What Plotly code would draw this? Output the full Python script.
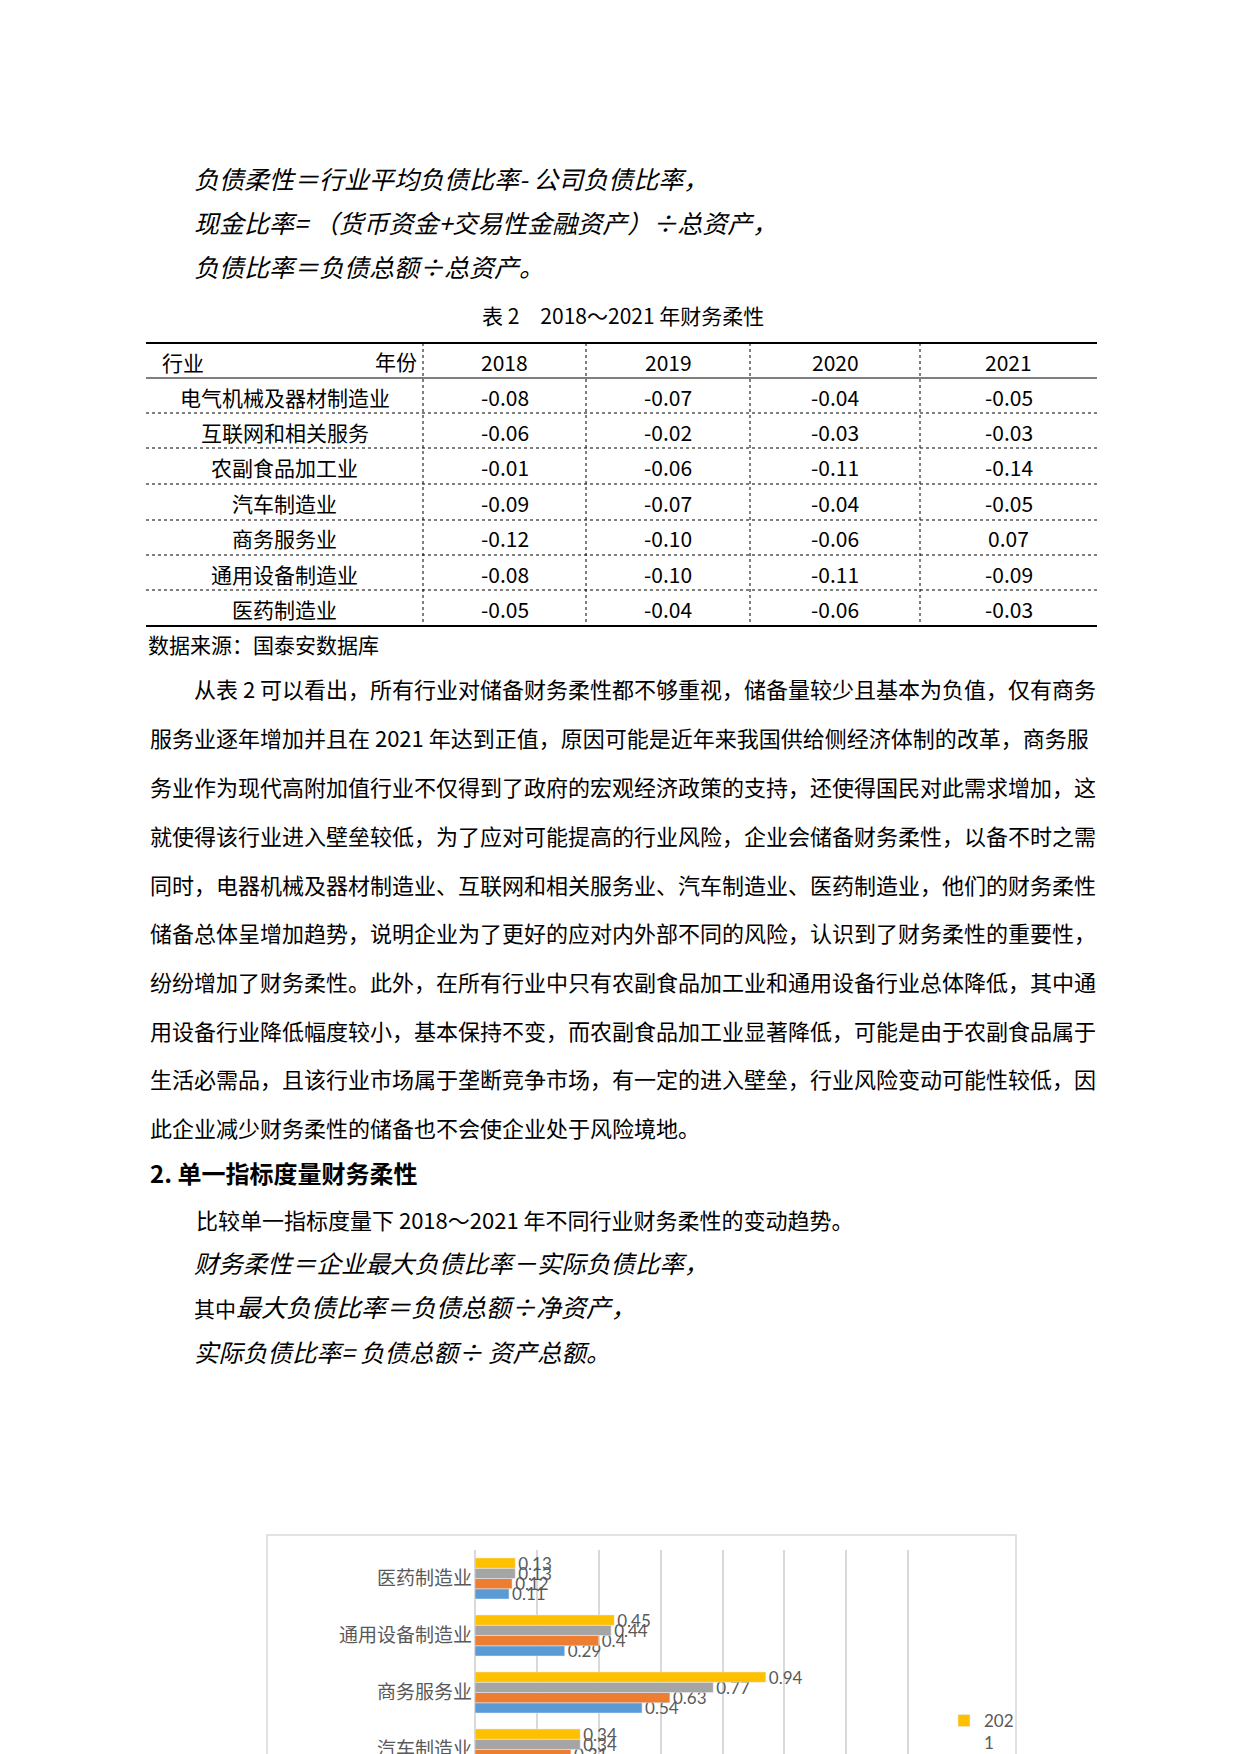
import plotly.graph_objects as go

W, H = 1240, 1754
OFF = 8  # the html body has a default 8px margin, positions below are page pixels
CJK = "Noto Sans CJK SC"
CHART_FONT = "Lato, Noto Sans CJK SC"
GREY_TEXT = "#595959"

# table 2: 2018~2021 financial flexibility
table_years = ["2018", "2019", "2020", "2021"]
table_industries = ["电气机械及器材制造业", "互联网和相关服务", "农副食品加工业",
                    "汽车制造业", "商务服务业", "通用设备制造业", "医药制造业"]
table_2018 = [-0.08, -0.06, -0.01, -0.09, -0.12, -0.08, -0.05]
table_2019 = [-0.07, -0.02, -0.06, -0.07, -0.10, -0.10, -0.04]
table_2020 = [-0.04, -0.03, -0.11, -0.04, -0.06, -0.11, -0.06]
table_2021 = [-0.05, -0.03, -0.14, -0.05, 0.07, -0.09, -0.03]

# bar chart (single indicator), bottom to top as drawn
chart_industries = ["汽车制造业", "商务服务业", "通用设备制造业", "医药制造业"]
flex_2018 = [0.28, 0.54, 0.29, 0.11]
flex_2019 = [0.31, 0.63, 0.40, 0.12]
flex_2020 = [0.34, 0.77, 0.44, 0.13]
flex_2021 = [0.34, 0.94, 0.45, 0.13]
series_years = ["2018", "2019", "2020", "2021"]
series_colors = ["#5B9BD5", "#ED7D31", "#A5A5A5", "#FFC000"]

body_lines = [
    "从表 2 可以看出，所有行业对储备财务柔性都不够重视，储备量较少且基本为负值，仅有商务",
    "服务业逐年增加并且在 2021 年达到正值，原因可能是近年来我国供给侧经济体制的改革，商务服",
    "务业作为现代高附加值行业不仅得到了政府的宏观经济政策的支持，还使得国民对此需求增加，这",
    "就使得该行业进入壁垒较低，为了应对可能提高的行业风险，企业会储备财务柔性，以备不时之需",
    "同时，电器机械及器材制造业、互联网和相关服务业、汽车制造业、医药制造业，他们的财务柔性",
    "储备总体呈增加趋势，说明企业为了更好的应对内外部不同的风险，认识到了财务柔性的重要性，",
    "纷纷增加了财务柔性。此外，在所有行业中只有农副食品加工业和通用设备行业总体降低，其中通",
    "用设备行业降低幅度较小，基本保持不变，而农副食品加工业显著降低，可能是由于农副食品属于",
    "生活必需品，且该行业市场属于垄断竞争市场，有一定的进入壁垒，行业风险变动可能性较低，因",
    "此企业减少财务柔性的储备也不会使企业处于风险境地。",
]
body_y = [688, 737, 786, 835, 884, 932, 981, 1030, 1078, 1127]


def px(x, y):
    return (x - OFF) / W, 1 - (y - OFF) / H


def note(text, x, y, size=22, anchor="left", color="black"):
    xp, yp = px(x, y)
    return dict(text=text, x=xp, y=yp, xref="paper", yref="paper",
                xanchor=anchor, yanchor="middle", showarrow=False,
                font=dict(family=CJK, size=size, color=color))


def hline(y, x0, x1, width=1, dash="solid"):
    a, yp = px(x0, y)
    b, _ = px(x1, y)
    return dict(type="line", xref="paper", yref="paper", x0=a, x1=b, y0=yp, y1=yp,
                line=dict(color="black", width=width, dash=dash))


def vline(x, y0, y1, width=1, dash="dot"):
    xp, a = px(x, y0)
    _, b = px(x, y1)
    return dict(type="line", xref="paper", yref="paper", x0=xp, x1=xp, y0=a, y1=b,
                line=dict(color="black", width=width, dash=dash))


fig = go.Figure()
for yr, vals, col in zip(series_years, [flex_2018, flex_2019, flex_2020, flex_2021], series_colors):
    fig.add_trace(go.Bar(
        y=chart_industries, x=vals, orientation="h", name=yr[:3] + "<br>" + yr[3:],
        marker_color=col, text=vals, texttemplate="%{x}", textposition="outside",
        constraintext="none", cliponaxis=True,
        textfont=dict(family=CHART_FONT, size=17, color=GREY_TEXT),
    ))

annotations = []
# formulas above the table
annotations.append(note("<i>负债柔性＝行业平均负债比率- 公司负债比率，</i>", 192, 178, 25))
annotations.append(note("<i>现金比率= （货币资金+交易性金融资产）÷总资产，</i>", 192, 222, 25))
annotations.append(note("<i>负债比率＝负债总额÷总资产。</i>", 192, 266, 25))
annotations.append(note("表 2　2018～2021 年财务柔性", 623, 315, 21, "center"))

# table
row_edges = [378, 413, 448, 484, 520, 555, 590, 626]
col_edges = [146, 423, 586, 750, 920, 1097]
annotations.append(note("行业", 160, 362, 21))
annotations.append(note("年份", 419, 361, 21, "right"))
for j, yr in enumerate(table_years):
    cx = (col_edges[j + 1] + col_edges[j + 2]) / 2
    annotations.append(note(yr, cx, 362, 21, "center"))
columns = [table_2018, table_2019, table_2020, table_2021]
for i, ind in enumerate(table_industries):
    cy = (row_edges[i] + row_edges[i + 1]) / 2 + 1
    annotations.append(note(ind, (col_edges[0] + col_edges[1]) / 2, cy, 21, "center"))
    for j, col in enumerate(columns):
        cx = (col_edges[j + 1] + col_edges[j + 2]) / 2
        annotations.append(note(f"{col[i]:.2f}", cx, cy, 21, "center"))
annotations.append(note("数据来源：国泰安数据库", 146, 644, 21))

# body paragraph
for k, (line, ly) in enumerate(zip(body_lines, body_y)):
    annotations.append(note(line, 192 if k == 0 else 148, ly, 22))

annotations.append(note("<b>2. 单一指标度量财务柔性</b>", 148, 1172, 24))
annotations.append(note("比较单一指标度量下 2018～2021 年不同行业财务柔性的变动趋势。", 194, 1219, 22))
annotations.append(note("<i>财务柔性＝企业最大负债比率－实际负债比率，</i>", 192, 1262, 24.5))
annotations.append(note("<span style='font-size:21px'>其中</span><i>最大负债比率＝负债总额÷净资产，</i>", 192, 1306, 25))
annotations.append(note("<i>实际负债比率= 负债总额÷ 资产总额。</i>", 192, 1351, 24.5))

shapes = [
    hline(343, 146, 1097, 1.8),
    hline(378, 146, 1097, 1.2),
    hline(626, 146, 1097, 1.8),
]
for ry in row_edges[1:-1]:
    shapes.append(hline(ry, 146, 1097, 1, "dot"))
for cx in col_edges[1:-1]:
    shapes.append(vline(cx, 343, 626))
# chart frame
fx0, fy0 = px(267, 1535)
fx1, _ = px(1016, 1535)
shapes.append(dict(type="rect", xref="paper", yref="paper", layer="below",
                   x0=fx0, x1=fx1, y0=fy0, y1=-0.05,
                   line=dict(color="#D9D9D9", width=1.5), fillcolor="white"))

ax0, plot_top = px(475, 1550)
ax1, _ = px(970, 1550)
lx, ly = px(944, 1703)

fig.update_layout(
    width=W, height=H, autosize=False,
    margin=dict(l=0, r=0, t=0, b=0, autoexpand=False),
    paper_bgcolor="white", plot_bgcolor="rgba(0,0,0,0)",
    barmode="group", bargap=0.28, bargroupgap=0,
    xaxis=dict(domain=[ax0, ax1], range=[0, 1.6], dtick=0.2,
               showgrid=True, gridcolor="#D9D9D9", gridwidth=1.5,
               zeroline=True, zerolinecolor="#D9D9D9", zerolinewidth=1.5,
               showticklabels=False, fixedrange=True),
    yaxis=dict(domain=[0, plot_top], range=[-0.219, 3.5],
               type="category", categoryorder="array", categoryarray=chart_industries,
               showgrid=False, zeroline=False, showline=False, ticks="",
               tickfont=dict(family=CHART_FONT, size=19, color=GREY_TEXT),
               ticklabelstandoff=2),
    showlegend=True,
    legend=dict(x=lx, y=ly, xanchor="left", yanchor="top",
                traceorder="reversed", valign="top", bgcolor="rgba(0,0,0,0)",
                font=dict(family=CHART_FONT, size=17, color=GREY_TEXT)),
    annotations=annotations,
    shapes=shapes,
    font=dict(family=CJK),
)

fig.write_html("out.html")
